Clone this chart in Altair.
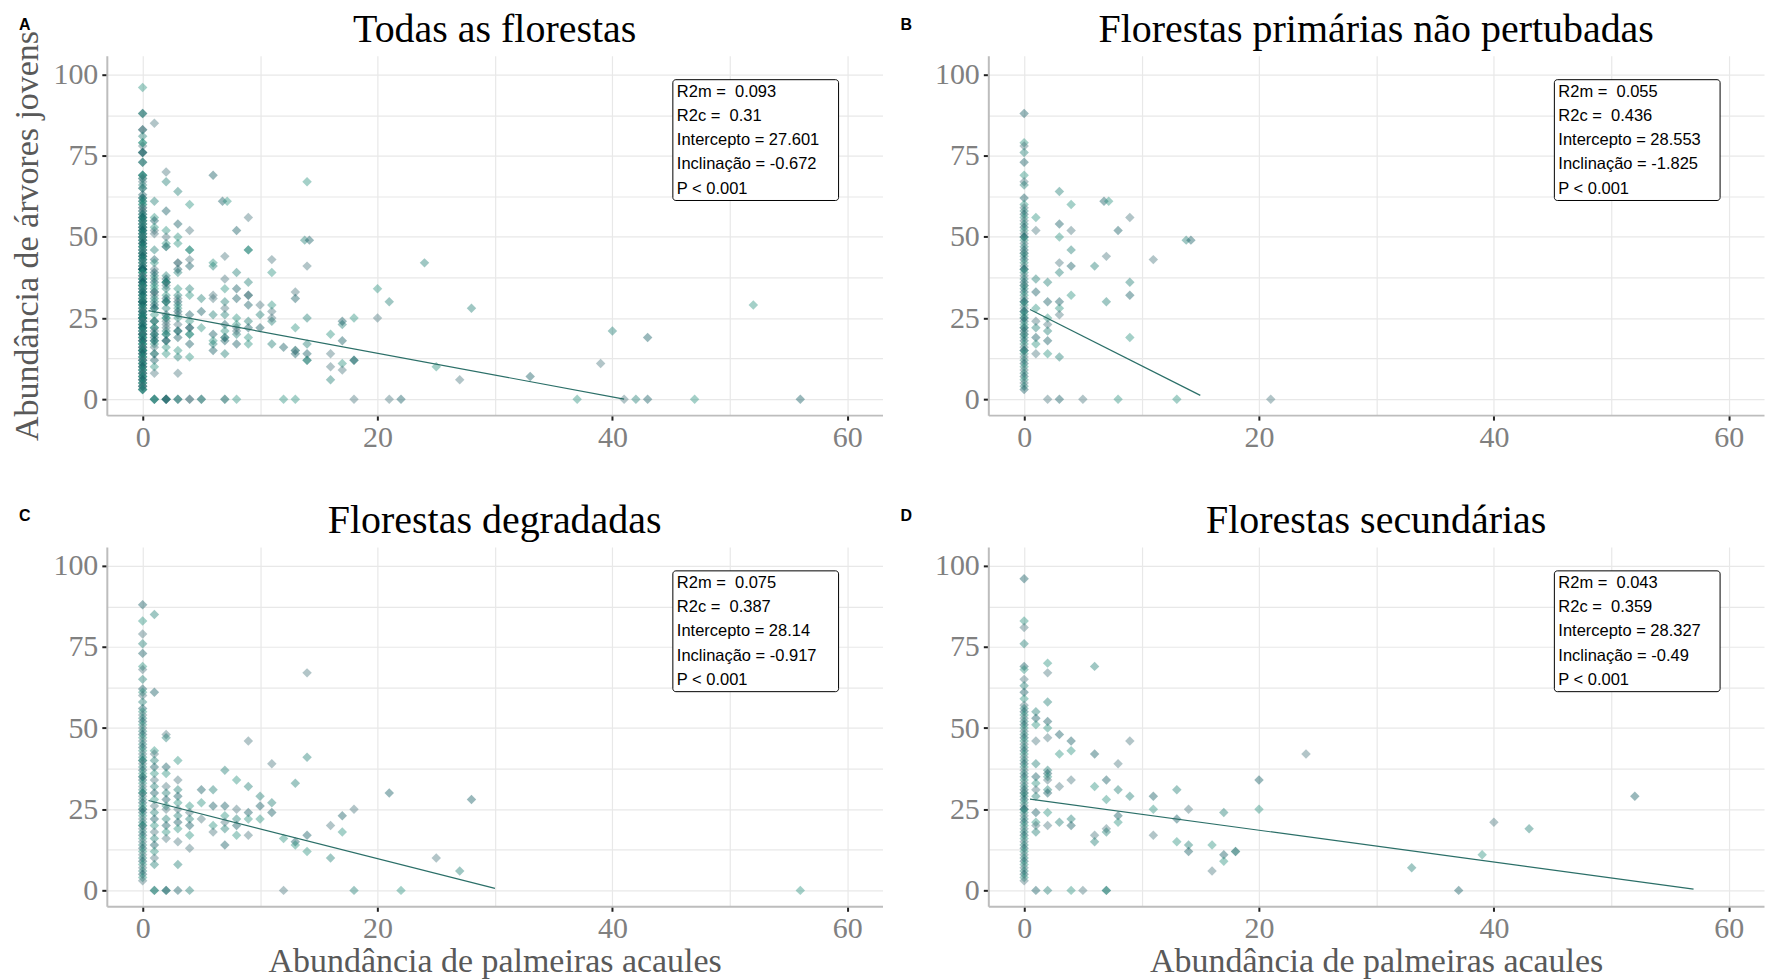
import altair as alt
import pandas as pd

# ---------------- data ----------------
# Panel B: primary undisturbed forests
B_col0_y = [88, 79, 78, 76, 73, 69, 67, 66, 62, 60, 59, 58, 57, 56, 55, 54, 53, 52, 51, 50, 50,
            49, 48, 47, 46, 45, 45, 44, 43, 42, 41, 40, 40, 39, 38, 37, 36, 35, 35, 34, 33, 32,
            31, 30, 30, 29, 28, 27, 27, 26, 25, 25, 24, 23, 22, 22, 21, 20, 20, 19, 18, 17, 16,
            15, 15, 14, 13, 12, 11, 10, 9, 8, 7, 6, 5, 4, 3]
B_x = [1, 1, 1, 1, 1, 1, 1, 1, 1, 1,
       2, 2, 2, 2, 2, 2, 2, 2,
       3, 3, 3, 3, 3, 3, 3, 3, 3, 3,
       4, 4, 4, 4, 4, 5,
       6, 6.8, 7.2, 7, 7,
       8, 8, 9, 9, 9, 9,
       11, 13.8, 14.2, 13, 21]
B_y = [56, 52, 37, 33, 28, 24, 22, 19, 17, 14,
       36, 30, 25, 23, 21, 18, 14, 0,
       64, 54, 50, 42, 39, 30, 28, 26, 13, 0,
       60, 52, 46, 41, 32, 0,
       41, 61, 61, 44, 30,
       52, 0, 56, 36, 32, 19,
       43, 49, 49, 0, 0]

# Panel C: degraded forests
C_col0_y = [88, 83, 79, 76, 73, 69, 68, 65, 62, 61, 60, 58, 56, 55, 54, 53, 52, 51, 50, 49, 48,
            47, 46, 45, 44, 43, 42, 41, 40, 40, 39, 38, 37, 36, 35, 35, 34, 33, 32, 31, 30, 30,
            29, 28, 27, 26, 25, 25, 24, 23, 22, 21, 20, 20, 19, 18, 17, 16, 15, 14, 13, 12, 11,
            10, 9, 8, 7, 6, 5, 4, 3]
C_x = [1, 1, 1, 1, 1, 1, 1, 1, 1, 1, 1, 1, 1, 1, 1, 1, 1, 1, 1, 1, 1, 1, 1,
       2, 2, 2, 2, 2, 2, 2, 2, 2, 2, 2, 2, 2, 2, 2,
       3, 3, 3, 3, 3, 3, 3, 3, 3, 3, 3, 3,
       4, 4, 4, 4, 4, 4, 4,
       5, 5, 5, 6, 6, 6, 6,
       7, 7, 7, 7, 7, 7,
       8, 8, 8, 8, 8,
       9, 9, 9, 9, 9,
       10, 10, 10, 11, 11, 11, 12, 12,
       13, 13, 13, 14, 14, 14, 14,
       16, 16, 17, 17, 18, 18, 21, 22, 25, 27, 28, 56]
C_y = [85, 61, 43, 42, 40, 38, 36, 34, 32, 30, 28, 26, 24, 22, 20, 18, 16, 14, 12, 10, 8, 0, 0,
       48, 47, 38, 36, 32, 30, 28, 26, 25, 22, 20, 18, 16, 0, 0,
       40, 34, 31, 29, 27, 25, 23, 21, 19, 15, 8, 0,
       26, 24, 22, 20, 17, 13, 0,
       31, 27, 22, 31, 26, 20, 18,
       37, 26, 23, 21, 19, 14,
       34, 25, 22, 20, 17,
       46, 32, 24, 22, 17,
       29, 26, 22, 39, 27, 24, 16, 0,
       33, 15, 14, 67, 41, 17, 12,
       20, 10, 23, 18, 25, 0, 30, 0, 10, 6, 28, 0]

# Panel D: secondary forests
D_col0_y = [96, 83, 81, 76, 69, 68, 65, 63, 61, 59, 57, 56, 55, 54, 53, 52, 51, 50, 49, 48, 47,
            46, 45, 44, 43, 42, 41, 40, 39, 38, 37, 36, 35, 34, 33, 32, 31, 30, 30, 29, 28, 27,
            26, 25, 25, 24, 23, 22, 21, 20, 19, 18, 17, 16, 15, 14, 13, 12, 11, 10, 9, 8, 7, 6,
            5, 4, 3]
D_x = [1, 1, 1, 1, 1, 1, 1, 1, 1, 1, 1, 1, 1, 1,
       2, 2, 2, 2, 2, 2, 2, 2, 2, 2, 2, 2, 2, 2, 2,
       3, 3, 3, 3,
       4, 4, 4, 4, 4, 4, 5,
       6, 6, 6, 6, 6,
       7, 7, 7, 7, 7, 7,
       8, 8, 8, 8, 9, 9,
       11, 11, 11, 13, 13, 13, 14, 14, 14,
       16, 16, 17, 17, 17, 18, 18, 20, 20,
       24, 33, 37, 39, 40, 43, 52]
D_y = [55, 53, 51, 46, 39, 35, 33, 31, 29, 24, 21, 20, 18, 0,
       70, 67, 58, 52, 50, 47, 37, 36, 35, 34, 31, 30, 24, 20, 0,
       48, 42, 32, 21,
       46, 43, 34, 22, 20, 0, 0,
       69, 42, 32, 17, 15,
       34, 28, 19, 18, 0, 0,
       39, 31, 23, 21, 46, 29,
       29, 25, 17, 31, 22, 15, 25, 14, 12,
       14, 6, 24, 11, 9, 12, 12, 34, 25,
       42, 7, 0, 11, 21, 19, 29]

# Points only seen in panel A (all forests)
A_extra_x = [41, 42, 43, 47]
A_extra_y = [0, 0, 0, 0]

# Model summaries
titles = ["Todas as florestas", "Florestas primárias não pertubadas",
          "Florestas degradadas", "Florestas secundárias"]
letters = ["A", "B", "C", "D"]
intercepts = [27.601, 28.553, 28.14, 28.327]
slopes = [-0.672, -1.825, -0.917, -0.49]
line_start = [0.5, 0.5, 0.5, 0.5]
line_end = [41, 15, 30, 57]
NB = "\u00a0"
stat_lines = [
    ["R2m = " + NB + "0.093", "R2c = " + NB + "0.31", "Intercepto = 27.601", "Inclinação = -0.672", "P < 0.001"],
    ["R2m = " + NB + "0.055", "R2c = " + NB + "0.436", "Intercepto = 28.553", "Inclinação = -1.825", "P < 0.001"],
    ["R2m = " + NB + "0.075", "R2c = " + NB + "0.387", "Intercepto = 28.14", "Inclinação = -0.917", "P < 0.001"],
    ["R2m = " + NB + "0.043", "R2c = " + NB + "0.359", "Intercepto = 28.327", "Inclinação = -0.49", "P < 0.001"],
]
x_grid = [0, 10, 20, 30, 40, 50, 60]
y_grid = [0, 12.5, 25, 37.5, 50, 62.5, 75, 87.5, 100]

# ---------------- styling ----------------
PALETTE = ["#0d555c", "#26907c", "#47757d", "#1b7a6f"]
SERIF = "Liberation Serif"
SANS = "Liberation Sans"
W, H = 777, 360


def points_frame(col_y, xs, ys):
    assert len(xs) == len(ys)
    rows = [{"x": 0.0, "y": v} for v in col_y] + [{"x": a, "y": b} for a, b in zip(xs, ys)]
    df = pd.DataFrame(rows)
    df["g"] = [str(i % len(PALETTE)) for i in range(len(df))]
    return df


dfB = points_frame(B_col0_y, B_x, B_y)
dfC = points_frame(C_col0_y, C_x, C_y)
dfD = points_frame(D_col0_y, D_x, D_y)
dfA = pd.concat([dfB, dfC, dfD, points_frame([], A_extra_x, A_extra_y)], ignore_index=True)
dfA["g"] = [str(i % len(PALETTE)) for i in range(len(dfA))]
frames = [dfA, dfB, dfC, dfD]


def panel(i, show_y_title, show_x_title):
    xs = alt.Scale(domain=[-3.05, 63.0], nice=False, zero=False)
    ys = alt.Scale(domain=[-4.9, 105.8], nice=False, zero=False)
    xaxis = alt.Axis(
        values=x_grid,
        labelExpr="datum.value % 20 === 0 ? datum.label : ''",
        tickColor={"condition": {"test": "datum.value % 20 === 0", "value": "#222222"},
                   "value": "transparent"},
        tickSize=5, tickWidth=2, labelPadding=2,
        labelFont=SERIF, labelFontSize=30, labelColor="#808080",
        labelOverlap=False, labelFlush=False,
        domainColor="#bdbdbd", domainWidth=2,
        gridColor="#e8e8e8", gridWidth=1.2,
        title="Abundância de palmeiras acaules" if show_x_title else "",
        titleFont=SERIF, titleFontSize=34, titleFontWeight="normal", titleColor="#595959",
        titleX=W / 2, titleY=65, titleBaseline="alphabetic", titleAlign="center",
    )
    yaxis = alt.Axis(
        values=y_grid,
        labelExpr="datum.value % 25 === 0 ? datum.label : ''",
        tickColor={"condition": {"test": "datum.value % 25 === 0", "value": "#222222"},
                   "value": "transparent"},
        tickSize=5, tickWidth=2, labelPadding=4,
        labelFont=SERIF, labelFontSize=30, labelColor="#808080",
        labelOverlap=False, labelFlush=False,
        domainColor="#bdbdbd", domainWidth=2,
        gridColor="#e8e8e8", gridWidth=1.2,
        title="Abundância de árvores jovens" if show_y_title else "",
        titleFont=SERIF, titleFontSize=34, titleFontWeight="normal", titleColor="#595959",
        titleX=-79, titleY=H / 2, titleAngle=270, titleBaseline="middle", titleAlign="center",
    )
    pts = alt.Chart(frames[i]).mark_point(
        shape="diamond", filled=True, size=90, opacity=0.42, strokeWidth=0
    ).encode(
        x=alt.X("x:Q", scale=xs, axis=xaxis),
        y=alt.Y("y:Q", scale=ys, axis=yaxis),
        color=alt.Color("g:N", scale=alt.Scale(range=PALETTE), legend=None),
    )
    lx = [line_start[i], line_end[i]]
    ldf = pd.DataFrame({"x": lx, "y": [intercepts[i] + slopes[i] * v for v in lx]})
    line = alt.Chart(ldf).mark_line(color="#2b6f68", strokeWidth=1.2).encode(
        x=alt.X("x:Q", scale=xs, axis=xaxis),
        y=alt.Y("y:Q", scale=ys, axis=yaxis),
    )
    one = pd.DataFrame({"k": [0]})
    box = alt.Chart(one).mark_rect(
        fill="white", stroke="black", strokeWidth=1, cornerRadius=3
    ).encode(x=alt.value(567), x2=alt.value(733), y=alt.value(24), y2=alt.value(145))
    txt = alt.Chart(one).mark_text(
        align="left", baseline="top", font=SANS, fontSize=16.5, lineHeight=24.3, color="black"
    ).encode(x=alt.value(571), y=alt.value(28), text=alt.value(stat_lines[i]))
    let = alt.Chart(one).mark_text(
        align="left", baseline="alphabetic", font=SANS, fontSize=16, fontWeight="bold", color="black"
    ).encode(x=alt.value(-88), y=alt.value(-26), text=alt.value(letters[i]))
    ttl = alt.Chart(one).mark_text(
        align="center", baseline="alphabetic", font=SERIF, fontSize=40, color="black"
    ).encode(x=alt.value(W / 2), y=alt.value(-14), text=alt.value(titles[i]))
    return alt.layer(pts, line, box, txt, let, ttl).properties(width=W, height=H)


chart = alt.concat(
    panel(0, True, False), panel(1, False, False),
    panel(2, False, True), panel(3, False, True),
    columns=2, spacing={"row": 132, "column": 106},
).properties(
    bounds="flush",
    padding={"left": 10, "top": 8, "right": 2, "bottom": 0},
).configure_view(stroke="transparent")

chart.save("out.html", embed_options={"renderer": "svg", "actions": False})
